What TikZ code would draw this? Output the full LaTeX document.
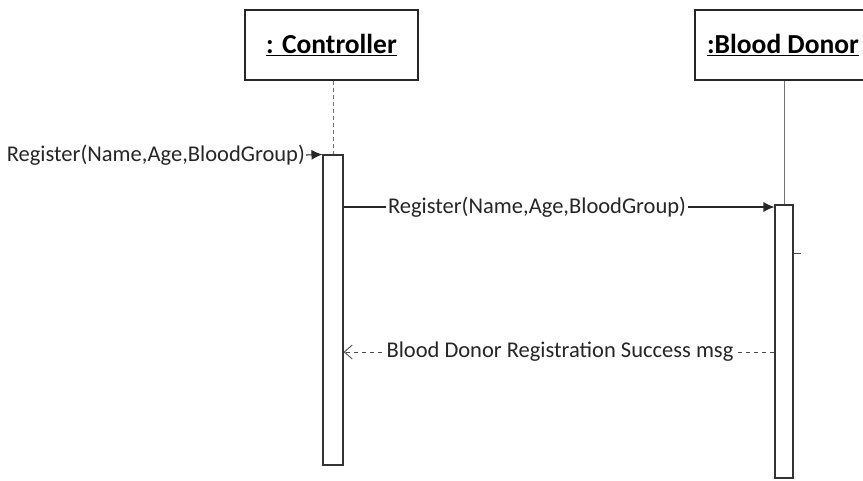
\documentclass[tikz,border=0pt]{standalone}
\usepackage{fontspec}
\setmainfont{Carlito}
\usetikzlibrary{arrows.meta}
\begin{document}
\begin{tikzpicture}[x=1pt,y=-1pt,
  objbox/.style={draw=black!85,line width=1.1pt,minimum height=70pt,inner sep=0pt,
    font=\fontsize{27.5}{32}\selectfont\bfseries},
  actbar/.style={draw=black!80,line width=1.1pt,fill=white,inner sep=0pt},
  msglabel/.style={font=\fontsize{22.5}{26}\selectfont,text=black!85,inner sep=1pt},
  syncmsg/.style={draw=black!85,line width=1.1pt,-{Latex[length=11pt,width=10pt]}},
  retmsg/.style={draw=black!70,line width=0.9pt,dash pattern=on 4pt off 4pt,
    -{Straight Barb[length=8pt,width=14pt]}},
  lifeline/.style={draw=black!55,line width=0.8pt}]
\useasboundingbox (0,0) rectangle (863,481);
\clip (0,0) rectangle (863,481);

% object heads
\node[objbox,minimum width=173pt] (ctrl) at (331.5,45) {\underline{: Controller}};
\node[objbox,minimum width=176pt] (donor) at (783,45) {\underline{:Blood Donor}};

% activation bars
\node[actbar,minimum width=20pt,minimum height=310pt] (cact) at (333,310) {};
\node[actbar,minimum width=18pt,minimum height=273pt] (dact) at (784,341.5) {};

% lifelines
\draw[lifeline,dashed,dash pattern=on 4pt off 3pt] (ctrl.south -| cact.north) -- (cact.north);
\draw[lifeline] (donor.south -| dact.north) -- (dact.north);

% incoming call
\coordinate (inend) at (306,155);
\node[msglabel,anchor=east] (inlbl) at (inend) {Register(Name,Age,BloodGroup)};
\draw[syncmsg] (inlbl.east) -- (cact.north west);

% call to the donor
\coordinate (y2) at (0,207);
\draw[syncmsg] (cact.east |- y2) -- node[msglabel,fill=white,inner xsep=2pt,xshift=-22pt] (m2) {Register(Name,Age,BloodGroup)} (dact.west |- y2);

% reply
\coordinate (y3) at (0,352);
\draw[retmsg] (dact.west |- y3) -- node[msglabel,fill=white,inner xsep=2pt,xshift=1pt] (m3) {Blood Donor Registration Success msg} (cact.east |- y3);

% small tick on the donor bar
\draw[draw=black!70,line width=0.8pt] (dact.east |- 0,253) -- ++(7,0);
\end{tikzpicture}
\end{document}
